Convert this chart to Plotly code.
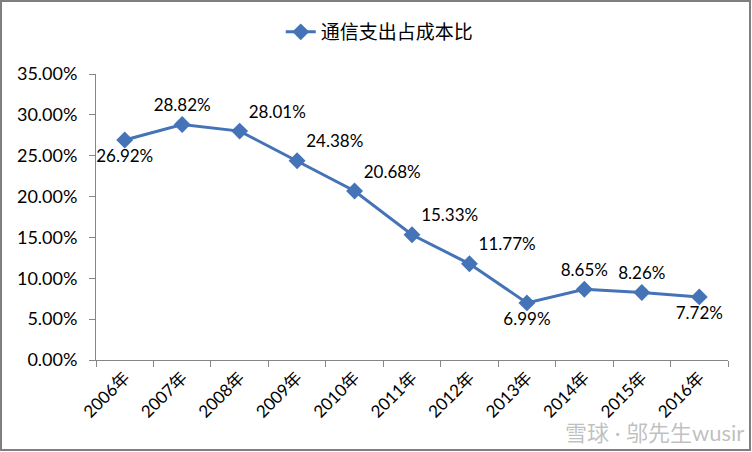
import plotly.graph_objects as go

years = ["2006年", "2007年", "2008年", "2009年", "2010年", "2011年",
         "2012年", "2013年", "2014年", "2015年", "2016年"]
ratio = [0.2692, 0.2882, 0.2801, 0.2438, 0.2068, 0.1533,
         0.1177, 0.0699, 0.0865, 0.0826, 0.0772]
label_pos = ["bottom center", "top center", "top right", "top right", "top right",
             "top right", "top right", "bottom center", "top center",
             "top center", "bottom center"]

font_name = "Lato, 'Noto Sans CJK SC', sans-serif"
line_color = "#4573B7"

fig = go.Figure()
fig.add_trace(go.Scatter(
    x=years,
    y=ratio,
    mode="lines+markers+text",
    name="通信支出占成本比",
    line=dict(color=line_color, width=3),
    marker=dict(symbol="diamond", size=13, color=line_color),
    text=[f"{v*100:.2f}%" for v in ratio],
    textposition=label_pos,
    textfont=dict(size=17, color="#000000"),
    cliponaxis=False,
))

W, H = 752, 452
ml, mr, mt, mb = 96, 24, 74, 92
pw, ph = W - ml - mr, H - mt - mb

fig.update_layout(
    width=W, height=H,
    margin=dict(l=ml, r=mr, t=mt, b=mb, autoexpand=False),
    paper_bgcolor="white",
    plot_bgcolor="white",
    font=dict(family=font_name, size=17, color="#000000"),
    showlegend=True,
    legend=dict(orientation="h", xref="container", yref="container",
                x=0.505, xanchor="center", y=1 - 32 / H, yanchor="middle",
                font=dict(size=19)),
)
fig.update_xaxes(
    type="category",
    range=[-0.5, 10.5],
    showline=True, linecolor="#868686", linewidth=1,
    ticks="outside", tickson="boundaries", ticklen=6, tickcolor="#868686",
    tickangle=-45, showgrid=False, zeroline=False,
    tickfont=dict(size=17),
)
fig.update_yaxes(
    range=[0, 0.35], dtick=0.05, tickformat=".2%",
    showline=True, linecolor="#868686", linewidth=1,
    ticks="outside", ticklen=6, tickcolor="#868686",
    ticklabelstandoff=8,
    showgrid=False, zeroline=False,
    tickfont=dict(size=18),
)

# outer chart border
fig.add_shape(type="rect", xref="paper", yref="paper",
              x0=(1 - ml) / pw, x1=(W - 2 - ml) / pw,
              y0=(mt + ph - (H - 2)) / ph, y1=(mt + ph - 1) / ph,
              line=dict(color="#7F7F7F", width=2))

# watermark
fig.add_annotation(xref="paper", yref="paper", x=(W - 6 - ml) / pw, y=(mt + ph - 432) / ph,
                   xanchor="right", yanchor="middle", showarrow=False,
                   text="雪球 · 邬先生wusir",
                   font=dict(size=22, color="rgba(150,150,150,0.6)"))

# drop the default page margin so the figure fills the window
fig.write_html("out.html", config={"displayModeBar": False},
               post_script="document.body.style.margin='0';document.body.style.overflow='hidden';")
